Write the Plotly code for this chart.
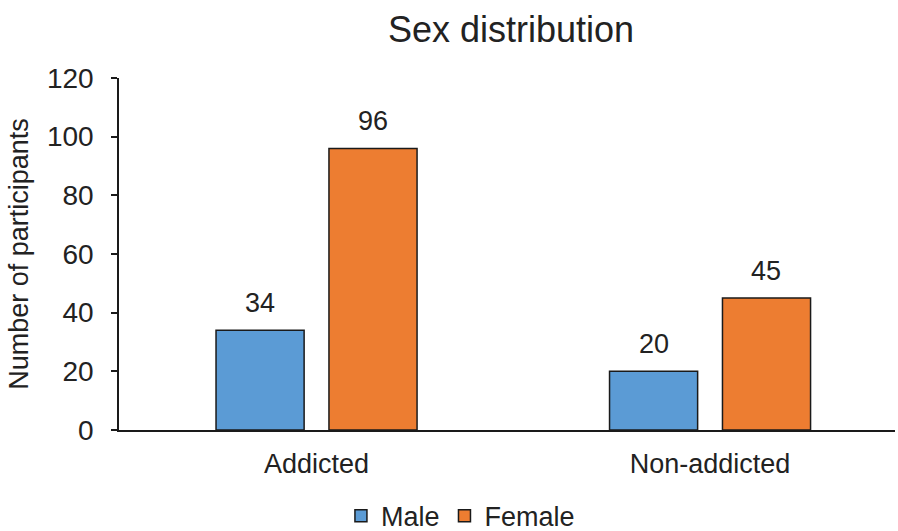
import plotly.graph_objects as go

# Participant counts by group and sex
groups = ["Addicted", "Non-addicted"]
male = [34, 20]
female = [96, 45]
y_ticks = [0, 20, 40, 60, 80, 100, 120]

FONT = "Liberation Sans, Arial, sans-serif"
MALE_COLOR = "#5B9BD5"
FEMALE_COLOR = "#ED7D31"
EDGE = "#1a1a1a"
TEXT = "#222222"

fig = go.Figure()
fig.add_trace(go.Bar(name="Male", x=groups, y=male,
                     marker=dict(color=MALE_COLOR, line=dict(color=EDGE, width=1.5))))
fig.add_trace(go.Bar(name="Female", x=groups, y=female,
                     marker=dict(color=FEMALE_COLOR, line=dict(color=EDGE, width=1.5))))

# Value labels above each bar
annotations = []
for i, g in enumerate(groups):
    for vals, off in ((male, -0.143), (female, 0.143)):
        annotations.append(dict(x=i + off, y=vals[i], xref="x", yref="y",
                                text=str(vals[i]), showarrow=False,
                                yshift=27, yanchor="middle",
                                font=dict(family=FONT, size=27, color=TEXT)))

fig.update_layout(
    width=898, height=531,
    margin=dict(l=119, r=3, t=78, b=101, autoexpand=False),
    paper_bgcolor="white", plot_bgcolor="white",
    barmode="group", bargap=0.426, bargroupgap=0.22,
    title=dict(text="Sex distribution", x=0.569, xanchor="center",
               y=0.945, yanchor="middle",
               font=dict(family=FONT, size=36, color=TEXT)),
    font=dict(family=FONT, size=27, color=TEXT),
    xaxis=dict(type="category", range=[-0.502, 1.47],
               showline=True, linecolor=EDGE, linewidth=1.5,
               ticks="", ticklabelstandoff=9,
               tickfont=dict(family=FONT, size=27, color=TEXT)),
    yaxis=dict(range=[0, 120], tickvals=y_ticks, showgrid=False,
               showline=True, linecolor=EDGE, linewidth=1.5,
               ticks="outside", ticklen=6, tickcolor=EDGE, tickwidth=1.5,
               ticklabelstandoff=12,
               tickfont=dict(family=FONT, size=28, color=TEXT),
               zeroline=False,
               title=dict(text="Number of participants", standoff=10,
                          font=dict(family=FONT, size=27, color=TEXT))),
    legend=dict(orientation="h", x=0.44, xanchor="center",
                yref="container", y=0.028, yanchor="middle",
                font=dict(family=FONT, size=27, color=TEXT),
                itemwidth=30, traceorder="normal"),
    annotations=annotations,
)

fig.write_html("out.html")
